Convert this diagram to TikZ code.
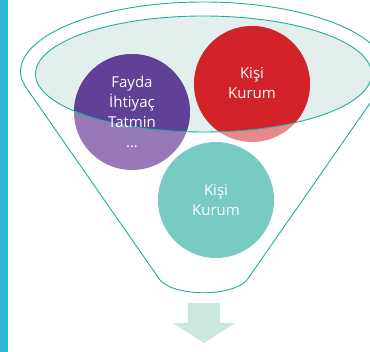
\documentclass[tikz,border=0pt]{standalone}
\usepackage{fontspec}
\setmainfont{Open Sans}
\usetikzlibrary{positioning}

\definecolor{barblue}{HTML}{2FB8D3}
\definecolor{funnelline}{HTML}{1EAE9E}
\definecolor{ellfill}{HTML}{E3EFEC}
\definecolor{purpledark}{HTML}{5F4197}
\definecolor{purplelight}{HTML}{9679B6}
\definecolor{reddark}{HTML}{D2232A}
\definecolor{redlight}{HTML}{E8888A}
\definecolor{tealcirc}{HTML}{77CBC1}
\definecolor{arrowfill}{HTML}{CCE7DF}

\begin{document}
\begin{tikzpicture}[x=1pt,y=-1pt,
  funnel/.style={draw=funnelline, line width=0.9pt},
  circtext/.style={text=white, align=center, font=\fontsize{15}{20}\selectfont}]

\useasboundingbox (0,0) rectangle (370,352);
\clip (0,0) rectangle (370,352);

% Left bar
\fill[barblue] (0,0) rectangle (7.5,352);

% Inner ellipse (mouth of the funnel)
\fill[ellfill] (203.5,74) ellipse (168 and 58);

% Circles, part outside the mouth
\fill[purplelight] (132,112) circle (58);
\fill[redlight] (252,84) circle (58);
\fill[tealcirc] (216,200) circle (58);

% Circles, part inside the mouth
\begin{scope}
\clip (203.5,74) ellipse (168 and 58);
\fill[purpledark] (132,112) circle (58);
\fill[reddark] (252,84) circle (58);
\end{scope}

% Funnel outline
\draw[funnel] (203.5,74) ellipse (168 and 58);
\draw[funnel] (20.5,72) arc (-180:0:183 and 70)
  .. controls (386,78) .. (382,86) -- (247,280)
  .. controls (232,297) and (175,297) .. (160,280)
  -- (25,86) .. controls (21,78) .. cycle;

% Texts
\node[circtext] (fayda) at (132,112) {Fayda\\İhtiyaç\\Tatmin\\...};
\node[circtext] (kisi) at (252,83) {Kişi\\Kurum};
\node[circtext] (kisialt) at (216,200) {Kişi\\Kurum};

% Arrow below the funnel
\fill[arrowfill] (188,303) -- (220,303) -- (220,323) -- (235,323)
  -- (204,343) -- (173,323) -- (188,323) -- cycle;

\end{tikzpicture}
\end{document}
